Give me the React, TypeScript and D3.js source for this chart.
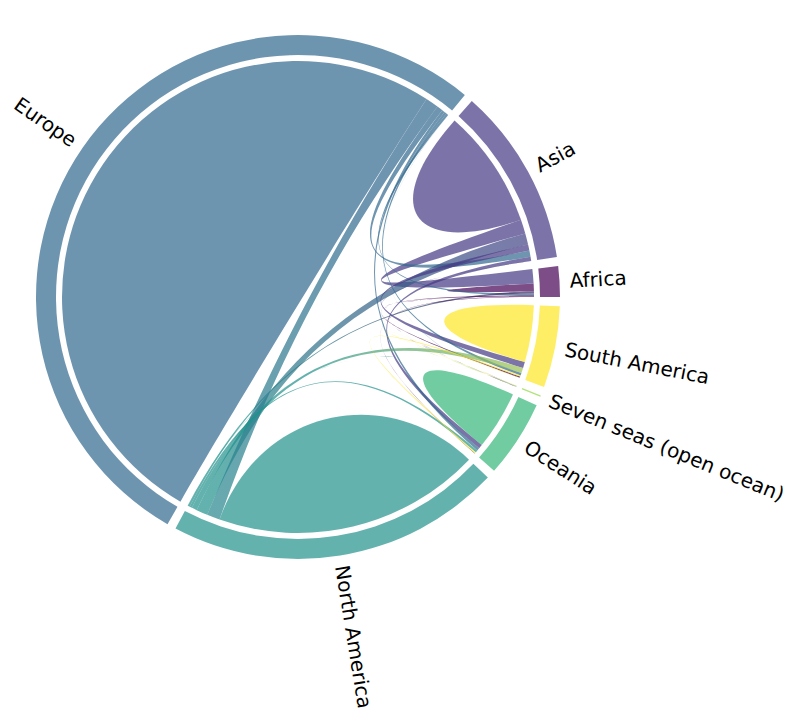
import React, { useRef, useEffect } from 'react';
import * as d3 from 'd3';

// continents, in drawing order (counter-clockwise from the east)
const names = [
  'Africa',
  'Asia',
  'Europe',
  'North America',
  'Oceania',
  'Seven seas (open ocean)',
  'South America',
];

// symmetric flow matrix, one row per continent
const africa = [188, 350, 50, 50, 10, 2, 30];
const asia = [350, 2935, 150, 280, 100, 5, 150];
const europe = [50, 150, 18335, 320, 70, 5, 60];
const northAmerica = [50, 280, 320, 6595, 60, 5, 130];
const oceania = [10, 100, 70, 60, 1448, 2, 30];
const sevenSeas = [2, 5, 5, 5, 2, 3, 8];
const southAmerica = [30, 150, 60, 130, 30, 8, 1402];

const matrix = [africa, asia, europe, northAmerica, oceania, sevenSeas, southAmerica];

function ChordChart() {
  const svgRef = useRef(null);

  useEffect(() => {
    const svg = d3.select(svgRef.current);
    svg.selectAll('*').remove();

    const cx = 298;
    const cy = 297;
    const outer = 262;
    const inner = 242;
    const R = 236; // chord radius
    const chordwidth = 0.7;
    const alpha = 0.7;

    const color = d3
      .scaleOrdinal()
      .domain(d3.range(names.length))
      .range(d3.range(names.length).map((i) => d3.interpolateViridis(i / (names.length - 1))));

    const layout = d3
      .chord()
      .padAngle((2 * Math.PI) / 180)
      .sortSubgroups(d3.ascending)(matrix);

    // polar -> screen, angle counter-clockwise from east
    const pt = (r, a) => [r * Math.cos(a), -r * Math.sin(a)];

    const g = svg.append('g').attr('transform', `translate(${cx},${cy})`);
    const defs = svg.append('defs');

    // outer ring
    const ring = d3.arc().innerRadius(inner).outerRadius(outer);
    g.selectAll('path.group')
      .data(layout.groups)
      .join('path')
      .attr('class', 'group')
      .attr('d', (d) =>
        ring({ startAngle: Math.PI / 2 - d.endAngle, endAngle: Math.PI / 2 - d.startAngle })
      )
      .attr('fill', (d) => color(d.index))
      .attr('fill-opacity', alpha);

    const ribbon = (s, t) => {
      const p = d3.path();
      const start = pt(R, s.startAngle);
      p.moveTo(start[0], start[1]);
      p.arc(0, 0, R, -s.startAngle, -s.endAngle, true);
      if (s === t) {
        // self chord: control points a bit further out
        const rc = R * (1 - 0.7 * chordwidth);
        const c1 = pt(rc, s.endAngle);
        const c2 = pt(rc, s.startAngle);
        p.bezierCurveTo(c1[0], c1[1], c2[0], c2[1], start[0], start[1]);
      } else {
        // chords between close arcs dip deeper towards the centre
        let sep = Math.abs((s.startAngle + s.endAngle) / 2 - (t.startAngle + t.endAngle) / 2);
        if (sep > Math.PI) sep = 2 * Math.PI - sep;
        const f = Math.min(1, Math.max(0.5, sep / (Math.PI / 3)));
        const rc = R * (1 - chordwidth) * f;
        const c1 = pt(rc, s.endAngle);
        const c2 = pt(rc, t.startAngle);
        const e = pt(R, t.startAngle);
        p.bezierCurveTo(c1[0], c1[1], c2[0], c2[1], e[0], e[1]);
        p.arc(0, 0, R, -t.startAngle, -t.endAngle, true);
        const d1 = pt(rc, t.endAngle);
        const d2 = pt(rc, s.startAngle);
        p.bezierCurveTo(d1[0], d1[1], d2[0], d2[1], start[0], start[1]);
      }
      p.closePath();
      return p.toString();
    };

    const chords = [...layout].sort(
      (a, b) => a.source.index - b.source.index || a.target.index - b.target.index
    );

    chords.forEach((c, k) => {
      let fill = color(c.source.index);
      if (c.source.index !== c.target.index) {
        const ms = (c.source.startAngle + c.source.endAngle) / 2;
        const mt = (c.target.startAngle + c.target.endAngle) / 2;
        const a = pt(R, ms);
        const b = pt(R, mt);
        const grad = defs
          .append('linearGradient')
          .attr('id', `grad-${k}`)
          .attr('gradientUnits', 'userSpaceOnUse')
          .attr('x1', a[0] + cx)
          .attr('y1', a[1] + cy)
          .attr('x2', b[0] + cx)
          .attr('y2', b[1] + cy);
        grad.append('stop').attr('offset', '0%').attr('stop-color', color(c.source.index));
        grad.append('stop').attr('offset', '100%').attr('stop-color', color(c.target.index));
        fill = `url(#grad-${k})`;
      }
      g.append('path')
        .attr('d', ribbon(c.source, c.target))
        .attr('fill', fill)
        .attr('fill-opacity', alpha);
    });

    // names
    const lr = 272;
    layout.groups.forEach((d) => {
      const mid = (d.startAngle + d.endAngle) / 2;
      const deg = (mid * 180) / Math.PI;
      const flip = deg > 90 && deg < 270;
      const rot = flip ? deg - 180 : deg;
      const [x, y] = pt(lr, mid);
      g.append('text')
        .attr('transform', `translate(${x},${y}) rotate(${-rot})`)
        .attr('text-anchor', flip ? 'end' : 'start')
        .attr('dominant-baseline', 'central')
        .attr('font-family', 'DejaVu Sans')
        .attr('font-size', '20px')
        .attr('fill', 'black')
        .text(names[d.index]);
    });
  }, []);

  return (
    <svg
      ref={svgRef}
      width={790}
      height={718}
      style={{ position: 'absolute', left: 0, top: 0 }}
      xmlns="http://www.w3.org/2000/svg"
    />
  );
}

export default function App() {
  return <ChordChart />;
}
